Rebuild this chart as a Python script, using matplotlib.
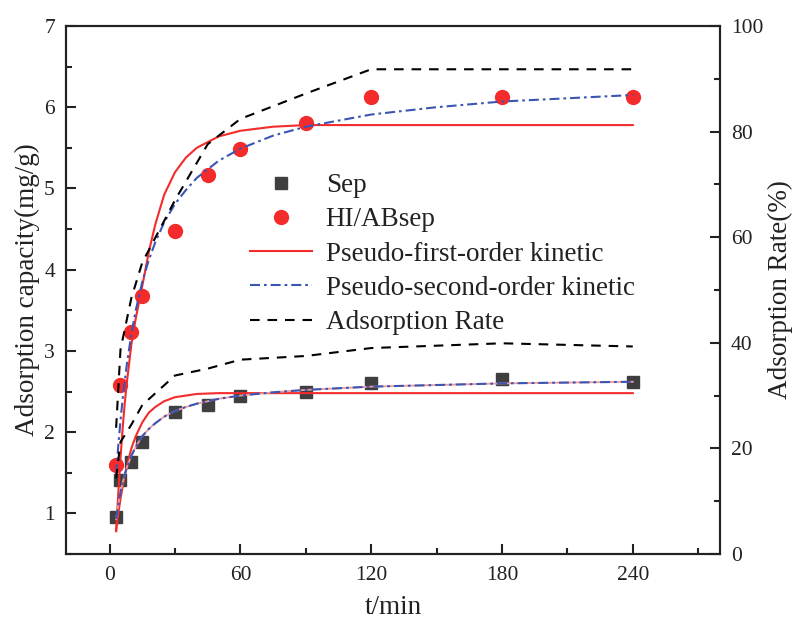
import matplotlib
matplotlib.use("Agg")
import matplotlib.pyplot as plt
from matplotlib.ticker import MultipleLocator

plt.rcParams['font.family'] = ['Liberation Serif', 'DejaVu Serif']

# measured adsorption data
t = [3, 5, 10, 15, 30, 45, 60, 90, 120, 180, 240]
q_sep = [0.95, 1.41, 1.63, 1.88, 2.25, 2.34, 2.45, 2.50, 2.60, 2.66, 2.62]
q_hi = [1.59, 2.58, 3.23, 3.68, 4.47, 5.17, 5.49, 5.81, 6.12, 6.12, 6.12]

# adsorption rate (%)
rate_sep = [14.3, 21.2, 24.5, 28.2, 33.8, 35.1, 36.8, 37.5, 39.0, 39.9, 39.3]
rate_hi = [23.9, 38.7, 48.5, 55.2, 67.0, 77.6, 82.4, 87.2, 91.8, 91.8, 91.8]

# kinetic fit curves
fit_t = [3, 4, 5, 6, 7, 8, 10, 12, 15, 18, 21, 25, 30, 35, 40, 50, 60,
         75, 90, 120, 150, 180, 210, 240]
pfo_sep = [0.79, 1.00, 1.18, 1.33, 1.47, 1.59, 1.80, 1.95, 2.12, 2.24, 2.31,
           2.38, 2.43, 2.45, 2.47, 2.48, 2.48, 2.48, 2.48, 2.48, 2.48, 2.48,
           2.48, 2.48]
pfo_hi = [0.78, 1.25, 1.68, 2.05, 2.37, 2.63, 3.08, 3.40, 3.80, 4.22, 4.56,
          4.92, 5.20, 5.38, 5.50, 5.64, 5.71, 5.76, 5.78, 5.78, 5.78, 5.78,
          5.78, 5.78]
pso_sep = [0.93, 1.11, 1.26, 1.38, 1.48, 1.57, 1.71, 1.82, 1.95, 2.04, 2.11,
           2.19, 2.26, 2.31, 2.35, 2.41, 2.45, 2.49, 2.52, 2.56, 2.58, 2.60,
           2.61, 2.62]
pso_hi = [1.48, 1.84, 2.14, 2.41, 2.64, 2.85, 3.21, 3.50, 3.85, 4.12, 4.34,
          4.58, 4.81, 4.98, 5.13, 5.34, 5.49, 5.65, 5.76, 5.91, 6.00, 6.07,
          6.11, 6.15]

RED = '#f42b2b'
BLUE = '#3a55b4'
GRAY = '#3f3f3f'
INK = '#222222'

fig = plt.figure(figsize=(7.96, 6.23), dpi=100)
ax = fig.add_axes([0.0829, 0.1108, 0.8216, 0.8475])
ax2 = ax.twinx()

h_sep, = ax.plot(t, q_sep, 's', color=GRAY, ms=9, mec=GRAY, ls='none',
                 label='Sep', zorder=2)
h_hi, = ax.plot(t, q_hi, 'o', color=RED, ms=10, mec=RED, ls='none',
                label='HI/ABsep', zorder=2)

h_pfo, = ax.plot(fit_t, pfo_hi, '-', color=RED, lw=1.5, zorder=3,
                 label='Pseudo-first-order kinetic')
ax.plot(fit_t, pfo_sep, '-', color=RED, lw=1.5, zorder=3)

ax.plot(fit_t, pso_sep, '-', color='#f29a9a', lw=1.3, zorder=3)
h_pso, = ax.plot(fit_t, pso_hi, color=BLUE, lw=1.5, zorder=4,
                 label='Pseudo-second-order kinetic')
h_pso.set_dashes((4.8, 1.9, 1.3, 1.9))
l2, = ax.plot(fit_t, pso_sep, color=BLUE, lw=1.5, zorder=4)
l2.set_dashes((4.8, 1.9, 1.3, 1.9))

h_rate, = ax2.plot(t, rate_hi, color='black', lw=1.5,
                   label='Adsorption Rate')
h_rate.set_dashes((4.6, 3.8))
r2, = ax2.plot(t, rate_sep, color='black', lw=1.5)
r2.set_dashes((4.6, 3.8))

ax.set_xlim(-20, 280)
ax.set_ylim(0.5, 7)
ax2.set_ylim(0, 100)

ax.xaxis.set_major_locator(MultipleLocator(60))
ax.xaxis.set_minor_locator(MultipleLocator(30))
ax.yaxis.set_major_locator(MultipleLocator(1))
ax.yaxis.set_minor_locator(MultipleLocator(0.5))
ax2.yaxis.set_major_locator(MultipleLocator(20))
ax2.yaxis.set_minor_locator(MultipleLocator(10))

for a in (ax, ax2):
    for s in a.spines.values():
        s.set_linewidth(1.5)
        s.set_color(INK)

ax.tick_params(axis='both', which='major', direction='in', length=7.5,
               width=1.5, labelsize=15.5, colors=INK)
ax.tick_params(axis='both', which='minor', direction='in', length=4.5,
               width=1.5, colors=INK)
ax.tick_params(axis='x', pad=9)
ax.tick_params(axis='y', pad=8)
ax.tick_params(axis='x', which='both', top=False)
ax2.tick_params(axis='y', which='major', direction='in', length=7.5,
                width=1.5, labelsize=15.5, pad=8, colors=INK)
ax2.tick_params(axis='y', which='minor', direction='in', length=4.5,
                width=1.5, colors=INK)

ax.set_xlabel('t/min', fontsize=19.5, color=INK, labelpad=7)
ax.set_ylabel('Adsorption capacity(mg/g)', fontsize=19.5, color=INK,
              labelpad=3)
ax2.set_ylabel('Adsorption Rate(%)', fontsize=19.5, color=INK,
               labelpad=3)

leg = fig.legend(handles=[h_sep, h_hi, h_pfo, h_pso, h_rate],
                 loc='upper left', bbox_to_anchor=(0.314, 0.722),
                 frameon=False, fontsize=19.5, handlelength=2.3,
                 handletextpad=0.5, labelspacing=0.34, borderpad=0,
                 borderaxespad=0)
for txt in leg.get_texts():
    txt.set_color(INK)

fig.savefig('out.png', dpi=100)
